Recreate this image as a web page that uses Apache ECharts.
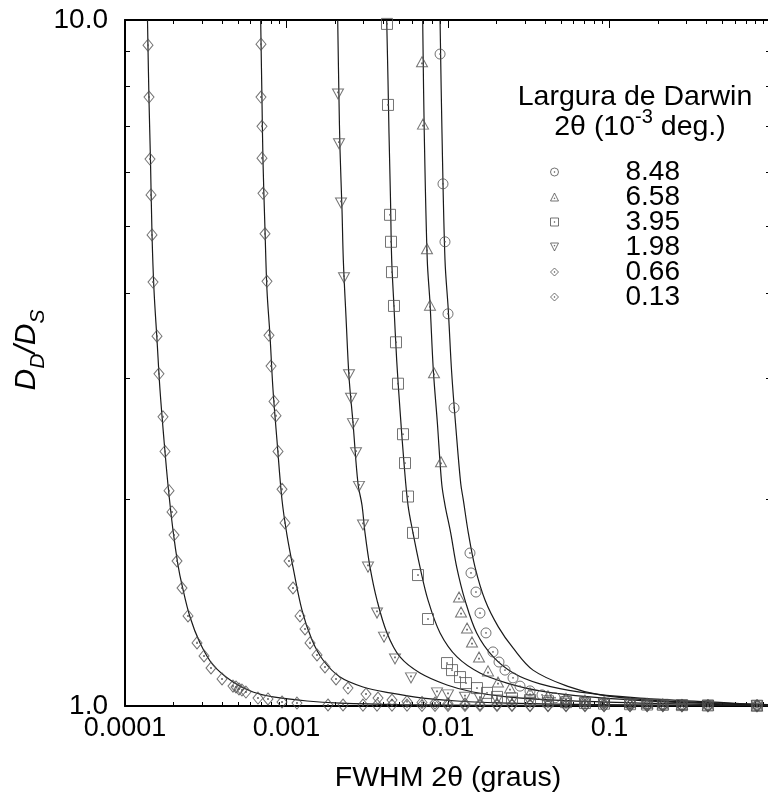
<!DOCTYPE html>
<html><head><meta charset="utf-8">
<script src="https://cdn.jsdelivr.net/npm/echarts@6/dist/echarts.min.js"></script>
<style>html,body{margin:0;padding:0;background:#fff}#c{width:768px;height:798px}</style>
</head><body><div id="c"></div>
<script>
// ---------- data ----------
const seriesNames = ['8.48', '6.58', '3.95', '1.98', '0.66', '0.13'];

const xTickValues = [1e-4, 1e-3, 1e-2, 1e-1];
const xTickLabels = ['0.0001', '0.001', '0.01', '0.1'];
const xMinorValues = [2e-4,3e-4,4e-4,5e-4,6e-4,7e-4,8e-4,9e-4,2e-3,3e-3,4e-3,5e-3,6e-3,7e-3,8e-3,9e-3,2e-2,3e-2,4e-2,5e-2,6e-2,7e-2,8e-2,9e-2,0.2,0.3,0.4,0.5,0.6,0.7,0.8,0.9];
const yTickValues = [1, 10];
const yTickLabels = ['1.0', '10.0'];
const yMinorValues = [2, 3, 4, 5, 6, 7, 8, 9];

// measured points (FWHM, D_D/D_S)
const pts848 = [[8.93e-3,8.92],[9.31e-3,5.77],[9.58e-3,4.75],[1.0e-2,3.73],[1.09e-2,2.72],[1.368e-2,1.671],[1.388e-2,1.563],[1.49e-2,1.466],[1.578e-2,1.366],[1.719e-2,1.278],[1.899e-2,1.199],[2.069e-2,1.159],[2.254e-2,1.128],[2.527e-2,1.099],[2.792e-2,1.069],[3.22e-2,1.052],[3.82e-2,1.038],[4.6e-2,1.028],[5.38e-2,1.02],[7.05e-2,1.015],[9.25e-2,1.011],[0.134,1.008],[0.171,1.006],[0.214,1.005],[0.281,1.003],[0.407,1.002],[0.819,1.001]];
const pts658 = [[6.902e-3,8.69],[7.0e-3,7.05],[7.41e-3,4.64],[7.736e-3,3.84],[8.19e-3,3.06],[9.05e-3,2.27],[1.17e-2,1.442],[1.204e-2,1.371],[1.312e-2,1.299],[1.408e-2,1.24],[1.556e-2,1.179],[1.769e-2,1.125],[2.04e-2,1.084],[2.42e-2,1.062],[3.22e-2,1.045],[4.16e-2,1.035],[5.38e-2,1.026],[7.05e-2,1.02],[9.25e-2,1.015],[0.134,1.011],[0.171,1.009],[0.214,1.007],[0.281,1.005],[0.407,1.003],[0.819,1.001]];
const pts395 = [[4.19e-3,9.87],[4.25e-3,7.52],[4.375e-3,5.2],[4.437e-3,4.75],[4.5e-3,4.29],[4.63e-3,3.83],[4.764e-3,3.39],[4.902e-3,2.95],[5.265e-3,2.49],[5.417e-3,2.26],[5.654e-3,2.02],[6.072e-3,1.788],[6.52e-3,1.552],[7.52e-3,1.339],[9.86e-3,1.155],[1.059e-2,1.128],[1.187e-2,1.102],[1.293e-2,1.08],[1.512e-2,1.062],[1.744e-2,1.045],[2.011e-2,1.031],[2.49e-2,1.026],[3.22e-2,1.02],[4.16e-2,1.016],[5.38e-2,1.013],[7.05e-2,1.01],[9.25e-2,1.008],[0.134,1.006],[0.171,1.005],[0.214,1.004],[0.281,1.003],[0.407,1.002],[0.819,1.001]];
const pts198 = [[2.084e-3,7.8],[2.114e-3,6.6],[2.175e-3,5.41],[2.27e-3,4.21],[2.438e-3,3.04],[2.509e-3,2.81],[2.58e-3,2.58],[2.693e-3,2.34],[2.81e-3,2.09],[2.976e-3,1.836],[3.196e-3,1.594],[3.634e-3,1.366],[4.016e-3,1.26],[4.697e-3,1.171],[5.9e-3,1.099],[8.55e-3,1.045],[1.0e-2,1.038],[1.274e-2,1.03],[1.578e-2,1.025],[2.011e-2,1.02],[2.49e-2,1.016],[3.22e-2,1.013],[4.16e-2,1.011],[5.38e-2,1.009],[7.05e-2,1.007],[9.25e-2,1.006],[0.134,1.005],[0.171,1.004],[0.214,1.003],[0.281,1.003],[0.407,1.002],[0.819,1.001]];
const pts066 = [[6.95e-4,9.22],[6.95e-4,7.72],[7.05e-4,7.0],[7.05e-4,6.29],[7.15e-4,5.59],[7.36e-4,4.88],[7.57e-4,4.16],[7.79e-4,3.47],[8.02e-4,3.13],[8.37e-4,2.78],[8.61e-4,2.65],[8.86e-4,2.35],[9.38e-4,2.07],[9.79e-4,1.849],[1.036e-3,1.627],[1.097e-3,1.486],[1.212e-3,1.353],[1.302e-3,1.295],[1.398e-3,1.236],[1.545e-3,1.187],[1.731e-3,1.14],[2.026e-3,1.095],[2.403e-3,1.062],[3.107e-3,1.041],[3.687e-3,1.027],[4.5e-3,1.02],[5.574e-3,1.015],[6.9e-3,1.012],[8.31e-3,1.01],[1.0e-2,1.008],[1.274e-2,1.007],[1.578e-2,1.006],[2.011e-2,1.005],[2.49e-2,1.004],[3.22e-2,1.003],[4.16e-2,1.003],[5.38e-2,1.003],[7.05e-2,1.003],[9.25e-2,1.002],[0.134,1.002],[0.171,1.002],[0.214,1.002],[0.281,1.001],[0.407,1.001],[0.819,1.001]];
const pts013 = [[1.388e-4,9.19],[1.408e-4,7.72],[1.428e-4,6.27],[1.449e-4,5.56],[1.47e-4,4.86],[1.491e-4,4.15],[1.578e-4,3.46],[1.623e-4,3.05],[1.719e-4,2.64],[1.769e-4,2.35],[1.873e-4,2.06],[1.954e-4,1.918],[2.011e-4,1.775],[2.099e-4,1.627],[2.254e-4,1.486],[2.455e-4,1.353],[2.792e-4,1.236],[3.085e-4,1.183],[3.408e-4,1.136],[3.988e-4,1.095],[4.664e-4,1.069],[4.867e-4,1.066],[5.08e-4,1.059],[5.3e-4,1.055],[5.61e-4,1.048],[6.66e-4,1.027],[7.68e-4,1.024],[9.38e-4,1.0135],[1.161e-3,1.01],[1.807e-3,1.0034],[2.239e-3,1.0034],[2.976e-3,1.003],[3.634e-3,1.003],[4.5e-3,1.003],[5.574e-3,1.003],[6.9e-3,1.002],[8.31e-3,1.002],[1.0e-2,1.002],[1.274e-2,1.002],[1.578e-2,1.002],[2.011e-2,1.002],[2.49e-2,1.002],[3.22e-2,1.001],[4.16e-2,1.001],[5.38e-2,1.001],[7.05e-2,1.001],[9.25e-2,1.001],[0.134,1.001],[0.171,1.001],[0.214,1.001],[0.281,1.001],[0.407,1.001],[0.819,1.001]];

// fitted curves
const fit848 = [[8.93e-3,10],[9.18e-3,6.84],[9.58e-3,4.47],[1.004e-2,3.78],[1.054e-2,3.06],[1.121e-2,2.53],[1.199e-2,2.11],[1.244e-2,1.997],[1.336e-2,1.788],[1.47e-2,1.594],[1.695e-2,1.427],[2.049e-2,1.304],[2.527e-2,1.215],[3.36e-2,1.128],[5.46e-2,1.069],[8.74e-2,1.038],[0.178,1.02],[0.483,1.01],[1.0,1.004]];
const fit658 = [[6.97e-3,10],[7.13e-3,6.84],[7.44e-3,4.47],[7.736e-3,3.87],[8.11e-3,3.09],[8.59e-3,2.59],[9.14e-3,2.11],[9.58e-3,1.963],[1.039e-2,1.788],[1.132e-2,1.594],[1.274e-2,1.427],[1.505e-2,1.278],[1.908e-2,1.179],[2.537e-2,1.117],[3.713e-2,1.077],[6.57e-2,1.048],[0.1545,1.027],[0.483,1.012],[1.0,1.003]];
const fit395 = [[4.173e-3,10],[4.25e-3,8.18],[4.312e-3,6.84],[4.406e-3,5.47],[4.481e-3,4.47],[4.63e-3,3.82],[4.812e-3,3.19],[5.045e-3,2.7],[5.341e-3,2.26],[5.654e-3,1.963],[6.072e-3,1.788],[6.71e-3,1.594],[7.52e-3,1.427],[8.93e-3,1.278],[1.137e-2,1.179],[1.578e-2,1.117],[2.319e-2,1.08],[3.713e-2,1.052],[7.57e-2,1.031],[0.2055,1.015],[1.0,1.002]];
const fit198 = [[2.075e-3,10],[2.114e-3,7.64],[2.145e-3,6.46],[2.207e-3,5.28],[2.248e-3,4.47],[2.336e-3,3.69],[2.438e-3,3.02],[2.58e-3,2.59],[2.771e-3,2.11],[2.934e-3,1.963],[3.063e-3,1.788],[3.289e-3,1.594],[3.634e-3,1.427],[4.19e-3,1.278],[5.045e-3,1.179],[6.71e-3,1.117],[9.86e-3,1.073],[1.428e-2,1.048],[2.319e-2,1.031],[4.94e-2,1.019],[0.1545,1.01],[1.0,1.001]];
const fit066 = [[6.92e-4,10],[7.05e-4,7.64],[7.15e-4,6.25],[7.36e-4,4.94],[7.57e-4,4.04],[7.9e-4,3.47],[8.25e-4,2.89],[8.73e-4,2.44],[9.38e-4,1.997],[1.007e-3,1.775],[1.097e-3,1.594],[1.247e-3,1.38],[1.439e-3,1.248],[1.683e-3,1.167],[2.145e-3,1.102],[2.976e-3,1.066],[4.375e-3,1.045],[7.0e-3,1.027],[1.137e-2,1.017],[2.319e-2,1.01],[8.74e-2,1.0044],[1.0,1.001]];
const fit013 = [[1.378e-4,10],[1.408e-4,7.64],[1.438e-4,6.25],[1.47e-4,4.86],[1.512e-4,4.04],[1.578e-4,3.42],[1.647e-4,2.89],[1.744e-4,2.44],[1.846e-4,2.1],[1.982e-4,1.805],[2.129e-4,1.605],[2.254e-4,1.501],[2.527e-4,1.348],[2.913e-4,1.236],[3.507e-4,1.148],[4.664e-4,1.084],[6.2e-4,1.048],[8.25e-4,1.031],[1.34e-3,1.017],[2.145e-3,1.01],[5.045e-3,1.005],[2.1e-2,1.002],[1.0,1.001]];

// ---------- styling ----------
const FONT = '"Liberation Sans", Arial, Helvetica, sans-serif';
const DOT = ' M4.6,4.6 L5.4,4.6 L5.4,5.4 L4.6,5.4 Z';
const symbols = {
  circle: 'path://M0,5 A5,5 0 1,0 10,5 A5,5 0 1,0 0,5 Z' + DOT,
  up: 'path://M5,0 L10,10 L0,10 Z M4.6,6.2 L5.4,6.2 L5.4,7 L4.6,7 Z',
  square: 'path://M0,0 L10,0 L10,10 L0,10 Z' + DOT,
  down: 'path://M0,0 L10,0 L5,10 Z M4.6,3 L5.4,3 L5.4,3.8 L4.6,3.8 Z',
  diamond: 'path://M5,0 L10,5 L5,10 L0,5 Z' + DOT
};
const markerDefs = [
  { name: seriesNames[0], data: pts848, fit: fit848, symbol: symbols.circle, size: [10, 10] },
  { name: seriesNames[1], data: pts658, fit: fit658, symbol: symbols.up, size: [11, 10] },
  { name: seriesNames[2], data: pts395, fit: fit395, symbol: symbols.square, size: [11, 11] },
  { name: seriesNames[3], data: pts198, fit: fit198, symbol: symbols.down, size: [11, 10] },
  { name: seriesNames[4], data: pts066, fit: fit066, symbol: symbols.diamond, size: [10, 12] },
  { name: seriesNames[5], data: pts013, fit: fit013, symbol: symbols.diamond, size: [10, 12] }
];

function labelFor(values, labels, v) {
  for (let i = 0; i < values.length; i++) {
    if (Math.abs(Math.log10(v) - Math.log10(values[i])) < 0.01) return labels[i];
  }
  return '';
}

const baseX = { type: 'log', logBase: 10, min: 1e-4, max: 1, splitLine: { show: false } };
const baseY = { type: 'log', logBase: 10, min: 1, max: 10, splitLine: { show: false } };
const blackLine = { show: true, onZero: false, lineStyle: { color: '#000', width: 2 } };
const tickStyle = { color: '#000', width: 1 };

const series = [];
markerDefs.forEach(d => {
  series.push({
    type: 'line', name: 'fit ' + d.name, data: d.fit, showSymbol: false, symbol: 'none',
    smooth: 0.35, lineStyle: { color: '#1a1a1a', width: 1.2 }, z: 2, silent: true
  });
});
markerDefs.forEach(d => {
  series.push({
    type: 'scatter', name: d.name, data: d.data, symbol: d.symbol, symbolSize: d.size,
    itemStyle: { color: 'rgba(255,255,255,0)', borderColor: '#505050', borderWidth: 1 }, z: 3
  });
});

const option = {
  animation: false,
  backgroundColor: '#fff',
  grid: { left: 125, top: 20, right: -3, bottom: 92, containLabel: false, outerBoundsMode: 'none' },
  xAxis: [
    Object.assign({}, baseX, {
      position: 'bottom', axisLine: blackLine,
      axisTick: { show: true, inside: true, length: 8, customValues: xTickValues, lineStyle: tickStyle },
      axisLabel: { show: true, customValues: xTickValues, margin: 9, color: '#000', fontSize: 27, fontFamily: FONT,
        formatter: v => labelFor(xTickValues, xTickLabels, v) },
      name: 'FWHM 2θ (graus)', nameLocation: 'middle', nameGap: 58,
      nameTextStyle: { color: '#000', fontSize: 28.5, fontFamily: FONT }
    }),
    Object.assign({}, baseX, {
      position: 'bottom', axisLine: { show: false },
      axisTick: { show: true, inside: true, length: 4, customValues: xMinorValues, lineStyle: tickStyle },
      axisLabel: { show: false }
    }),
    Object.assign({}, baseX, {
      position: 'top', axisLine: blackLine,
      axisTick: { show: true, inside: true, length: 8, customValues: xTickValues, lineStyle: tickStyle },
      axisLabel: { show: false }
    }),
    Object.assign({}, baseX, {
      position: 'top', axisLine: { show: false },
      axisTick: { show: true, inside: true, length: 4, customValues: xMinorValues, lineStyle: tickStyle },
      axisLabel: { show: false }
    })
  ],
  yAxis: [
    Object.assign({}, baseY, {
      position: 'left', axisLine: blackLine,
      axisTick: { show: true, inside: true, length: 6, customValues: yTickValues, lineStyle: tickStyle },
      axisLabel: { show: true, customValues: yTickValues, margin: 17, color: '#000', fontSize: 28, fontFamily: FONT,
        formatter: v => labelFor(yTickValues, yTickLabels, v) }
    }),
    Object.assign({}, baseY, {
      position: 'left', axisLine: { show: false },
      axisTick: { show: true, inside: true, length: 5, customValues: yMinorValues, lineStyle: tickStyle },
      axisLabel: { show: false }
    }),
    Object.assign({}, baseY, {
      position: 'right', axisLine: blackLine,
      axisTick: { show: true, inside: true, length: 5, customValues: yMinorValues, lineStyle: tickStyle },
      axisLabel: { show: false }
    })
  ],
  legend: {
    data: seriesNames, orient: 'vertical', left: 550, top: 158, padding: 0,
    itemWidth: 8, itemHeight: 8, itemGap: -3, selectedMode: false,
    itemStyle: { borderWidth: 1 },
    textStyle: { color: '#000', fontSize: 28, fontFamily: FONT, padding: [0, 0, 0, 62] }
  },
  graphic: [
    { type: 'text', x: 635, y: 97, style: { text: 'Largura de Darwin', fill: '#000', font: '28.5px ' + FONT, textAlign: 'center', textVerticalAlign: 'middle', align: 'center', verticalAlign: 'middle' } },
    { type: 'text', x: 640, y: 127, style: {
        text: '{n|2θ (10}{s|-3}{n| deg.)}', textAlign: 'center', textVerticalAlign: 'middle', align: 'center', verticalAlign: 'middle',
        rich: {
          n: { fontSize: 28.5, fontFamily: FONT, fill: '#000', color: '#000', lineHeight: 40 },
          s: { fontSize: 20, fontFamily: FONT, fill: '#000', color: '#000', verticalAlign: 'top', textVerticalAlign: 'top' }
        } } },
    { type: 'text', x: 27, y: 350, rotation: Math.PI / 2, style: {
        text: '{d|D}{s|D}{d|/D}{s|S}', textAlign: 'center', textVerticalAlign: 'middle', align: 'center', verticalAlign: 'middle',
        rich: {
          d: { fontSize: 30, fontStyle: 'italic', fontFamily: FONT, fill: '#000', color: '#000', lineHeight: 44 },
          s: { fontSize: 21, fontStyle: 'italic', fontFamily: FONT, fill: '#000', color: '#000', verticalAlign: 'bottom', textVerticalAlign: 'bottom' }
        } } }
  ],
  series: series
};

const chart = echarts.init(document.getElementById('c'), null, { renderer: 'canvas' });
chart.setOption(option);
</script></body></html>
